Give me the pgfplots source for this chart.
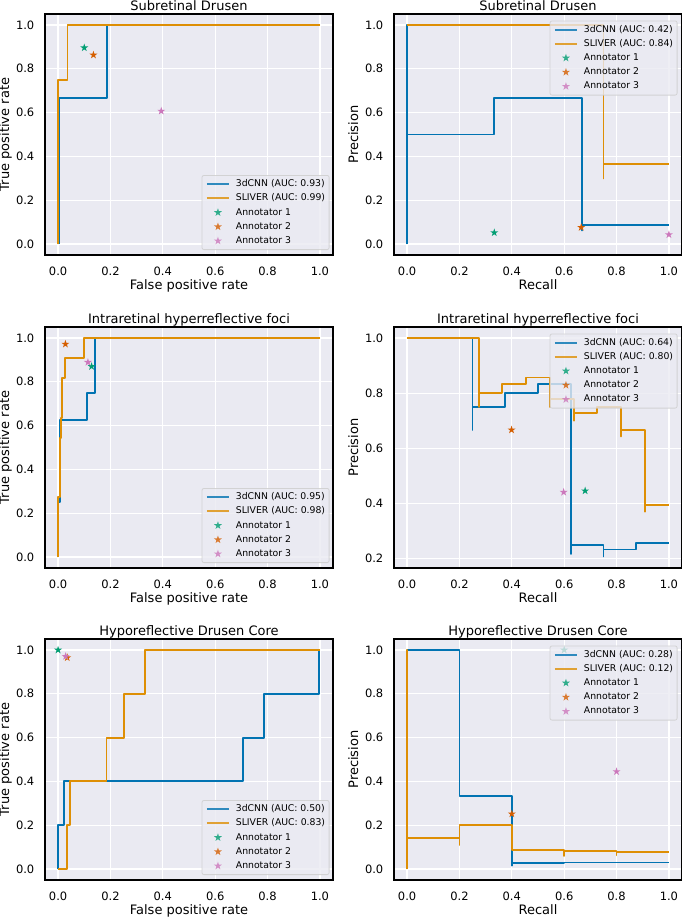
\documentclass[border=0pt]{standalone}
\usepackage{fontspec}
\setmainfont{DejaVu Sans}
\usepackage{pgfplots}
\pgfplotsset{compat=1.18}
\definecolor{bgc}{HTML}{EAEAF2}
\definecolor{cblue}{HTML}{0173B2}
\definecolor{corange}{HTML}{DE8F05}
\definecolor{cgreen}{HTML}{029E73}
\definecolor{cred}{HTML}{D55E00}
\definecolor{cpink}{HTML}{CC78BC}
\pgfdeclareplotmark{fstar}{%
 \pgfpathmoveto{\pgfpointpolar{90}{\pgfplotmarksize}}%
 \pgfpathlineto{\pgfpointpolar{126}{0.382\pgfplotmarksize}}%
 \pgfpathlineto{\pgfpointpolar{162}{\pgfplotmarksize}}%
 \pgfpathlineto{\pgfpointpolar{198}{0.382\pgfplotmarksize}}%
 \pgfpathlineto{\pgfpointpolar{234}{\pgfplotmarksize}}%
 \pgfpathlineto{\pgfpointpolar{270}{0.382\pgfplotmarksize}}%
 \pgfpathlineto{\pgfpointpolar{306}{\pgfplotmarksize}}%
 \pgfpathlineto{\pgfpointpolar{342}{0.382\pgfplotmarksize}}%
 \pgfpathlineto{\pgfpointpolar{18}{\pgfplotmarksize}}%
 \pgfpathlineto{\pgfpointpolar{54}{0.382\pgfplotmarksize}}%
 \pgfpathclose
 \pgfusepathqfill
}
\pgfplotsset{
 snsaxis/.style={
  scale only axis, width=288pt, height=241pt,
  anchor=north west,
  axis background/.style={fill=bgc},
  xmin=-0.05, xmax=1.05,
  xtick={0,0.2,0.4,0.6,0.8,1.0},
  grid=major, major grid style={white, line width=1.2pt},
  axis line style={black, line width=1.6pt},
  major tick length=0pt,
  /pgf/number format/fixed, /pgf/number format/fixed zerofill,
  /pgf/number format/precision=1, /pgf/number format/assume math mode=true,
  tick label style={font=\fontsize{11.5}{13}\selectfont},
  xticklabel style={anchor=base, yshift=-20pt},
  yticklabel style={anchor=east, inner xsep=0pt, xshift=-10.5pt},
  label style={font=\fontsize{13}{15}\selectfont},
  title style={font=\fontsize{13}{15}\selectfont, at={(axis description cs:0.5,1)}, anchor=base, yshift=-2.5pt},
  xlabel style={at={(axis description cs:0.5,0)}, anchor=base, yshift=-34pt},
  ylabel style={at={(axis description cs:-0.125,0.5)}, anchor=base},
  legend cell align=left,
  legend style={font=\fontsize{9.3}{11}\selectfont, fill=bgc, fill opacity=0.8, draw opacity=0.8, text opacity=1,
    draw=black!20, line width=0.8pt, rounded corners=2pt, inner xsep=4pt, inner ysep=4.2pt,
    nodes={inner sep=0pt, text height=7pt, text depth=2pt}, row sep=5.2pt, column sep=6pt},
  legend image code/.code={\draw[mark repeat=2,mark phase=2,#1] plot coordinates {(0pt,0pt) (11pt,0pt) (22pt,0pt)};},
 },
 lowright/.style={legend style={at={(axis description cs:1,0)}, anchor=south east, xshift=-3.5pt, yshift=5pt}},
 upright/.style={legend style={at={(axis description cs:1,1)}, anchor=north east, xshift=-4.5pt, yshift=-6.5pt}},
 curve/.style={line width=1.9pt, no markers, line join=round, line cap=butt},
 ann/.style={only marks, mark=fstar, mark size=4.2pt},
}
\begin{document}
\begin{tikzpicture}
\path[use as bounding box] (0pt,0pt) rectangle (682pt,-919pt);
% ---------------- Panel A -----------------
\begin{axis}[snsaxis, lowright, at={(45pt,-14pt)}, ymin=-0.05, ymax=1.05,
  title={Subretinal Drusen}, xlabel={False positive rate}, ylabel={True positive rate}]
\addplot[curve, cblue] coordinates {(0.004,0) (0.004,0.667) (0.186,0.667) (0.186,1) (1,1)};
\addlegendentry{3dCNN (AUC: 0.93)}
\addplot[curve, corange] coordinates {(-0.002,0.0) (-0.002,0.75) (0.036,0.75) (0.036,1) (1,1)};
\addlegendentry{SLIVER (AUC: 0.99)}
\addplot[ann, cgreen] coordinates {(0.100,0.896)};
\addlegendentry{Annotator 1}
\addplot[ann, cred] coordinates {(0.135,0.863)};
\addlegendentry{Annotator 2}
\addplot[ann, cpink] coordinates {(0.394,0.607)};
\addlegendentry{Annotator 3}
\end{axis}
% ---------------- Panel B -----------------
\begin{axis}[snsaxis, upright, at={(394pt,-14pt)}, ymin=-0.05, ymax=1.05,
  title={Subretinal Drusen}, xlabel={Recall}, ylabel={Precision}]
\addplot[curve, cblue] coordinates {(0,0) (0,1) (0,0.5) (0.333,0.5) (0.333,0.667) (0.667,0.667) (0.667,0.062) (0.667,0.088) (1,0.088)};
\addlegendentry{3dCNN (AUC: 0.42)}
\addplot[curve, corange] coordinates {(0,1) (0.75,1) (0.75,0.30) (0.75,0.364) (1,0.364)};
\addlegendentry{SLIVER (AUC: 0.84)}
\addplot[ann, cgreen] coordinates {(0.333,0.052)};
\addlegendentry{Annotator 1}
\addplot[ann, cred] coordinates {(0.665,0.076)};
\addlegendentry{Annotator 2}
\addplot[ann, cpink] coordinates {(1.0,0.043)};
\addlegendentry{Annotator 3}
\end{axis}
% ---------------- Panel C -----------------
\begin{axis}[snsaxis, lowright, at={(45pt,-327pt)}, ymin=-0.05, ymax=1.05,
  title={Intraretinal hyperreflective foci}, xlabel={False positive rate}, ylabel={True positive rate}]
\addplot[curve, cblue] coordinates {(0,0) (0,0.25) (0.008,0.25) (0.008,0.625) (0.111,0.625) (0.111,0.75) (0.140,0.75) (0.140,1) (1,1)};
\addlegendentry{3dCNN (AUC: 0.95)}
\addplot[curve, corange] coordinates {(0,0) (0,0.273) (0.007,0.273) (0.007,0.545) (0.010,0.545) (0.010,0.636) (0.015,0.636) (0.015,0.818) (0.027,0.818) (0.027,0.909) (0.099,0.909) (0.099,1) (1,1)};
\addlegendentry{SLIVER (AUC: 0.98)}
\addplot[ann, cgreen] coordinates {(0.128,0.870)};
\addlegendentry{Annotator 1}
\addplot[ann, cred] coordinates {(0.028,0.972)};
\addlegendentry{Annotator 2}
\addplot[ann, cpink] coordinates {(0.114,0.889)};
\addlegendentry{Annotator 3}
\end{axis}
% ---------------- Panel D -----------------
\begin{axis}[snsaxis, upright, at={(394pt,-327pt)}, ymin=0.166, ymax=1.04,
  ytick={0.2,0.4,0.6,0.8,1.0},
  title={Intraretinal hyperreflective foci}, xlabel={Recall}, ylabel={Precision}]
\addplot[curve, cblue] coordinates {(0,1) (0.25,1) (0.25,0.667) (0.25,0.75) (0.375,0.75) (0.375,0.8) (0.5,0.8) (0.5,0.833) (0.625,0.833) (0.625,0.217) (0.625,0.25) (0.75,0.25) (0.75,0.208) (0.75,0.233) (0.875,0.233) (0.875,0.258) (1,0.258)};
\addlegendentry{3dCNN (AUC: 0.64)}
\addplot[curve, corange] coordinates {(0,1) (0.273,1) (0.273,0.75) (0.273,0.8) (0.364,0.8) (0.364,0.833) (0.455,0.833) (0.455,0.857) (0.545,0.857) (0.545,0.75) (0.545,0.778) (0.636,0.778) (0.636,0.70) (0.636,0.727) (0.727,0.727) (0.727,0.75) (0.818,0.75) (0.818,0.643) (0.818,0.667) (0.909,0.667) (0.909,0.37) (0.909,0.393) (1,0.393)};
\addlegendentry{SLIVER (AUC: 0.80)}
\addplot[ann, cgreen] coordinates {(0.680,0.446)};
\addlegendentry{Annotator 1}
\addplot[ann, cred] coordinates {(0.399,0.667)};
\addlegendentry{Annotator 2}
\addplot[ann, cpink] coordinates {(0.598,0.441)};
\addlegendentry{Annotator 3}
\end{axis}
% ---------------- Panel E -----------------
\begin{axis}[snsaxis, lowright, at={(45pt,-639pt)}, ymin=-0.05, ymax=1.05,
  title={Hyporeflective Drusen Core}, xlabel={False positive rate}, ylabel={True positive rate}]
\addplot[curve, cblue] coordinates {(0,0) (0,0.2) (0.022,0.2) (0.022,0.4) (0.705,0.4) (0.705,0.6) (0.788,0.6) (0.788,0.8) (0.997,0.8) (0.997,1)};
\addlegendentry{3dCNN (AUC: 0.50)}
\addplot[curve, corange] coordinates {(0,0) (0.035,0) (0.035,0.2) (0.044,0.2) (0.044,0.4) (0.185,0.4) (0.185,0.6) (0.253,0.6) (0.253,0.8) (0.333,0.8) (0.333,1) (1,1)};
\addlegendentry{SLIVER (AUC: 0.83)}
\addplot[ann, cgreen] coordinates {(0.0,1.0)};
\addlegendentry{Annotator 1}
\addplot[ann, cred] coordinates {(0.035,0.965)};
\addlegendentry{Annotator 2}
\addplot[ann, cpink] coordinates {(0.029,0.971)};
\addlegendentry{Annotator 3}
\end{axis}
% ---------------- Panel F -----------------
\begin{axis}[snsaxis, upright, at={(394pt,-639pt)}, ymin=-0.05, ymax=1.05,
  title={Hyporeflective Drusen Core}, xlabel={Recall}, ylabel={Precision}]
\addplot[curve, cblue] coordinates {(0,1) (0.2,1) (0.2,0.333) (0.4,0.333) (0.4,0.016) (0.4,0.026) (0.6,0.026) (0.6,0.030) (1,0.030)};
\addlegendentry{3dCNN (AUC: 0.28)}
\addplot[curve, corange] coordinates {(0,0) (0,1) (0,0.143) (0.2,0.143) (0.2,0.11) (0.2,0.2) (0.4,0.2) (0.4,0.087) (0.6,0.087) (0.6,0.06) (0.6,0.083) (0.8,0.083) (0.8,0.063) (0.8,0.078) (1,0.078)};
\addlegendentry{SLIVER (AUC: 0.12)}
\addplot[ann, cgreen] coordinates {(0.6,1.0)};
\addlegendentry{Annotator 1}
\addplot[ann, cred] coordinates {(0.4,0.252)};
\addlegendentry{Annotator 2}
\addplot[ann, cpink] coordinates {(0.8,0.445)};
\addlegendentry{Annotator 3}
\end{axis}
\end{tikzpicture}
\end{document}
